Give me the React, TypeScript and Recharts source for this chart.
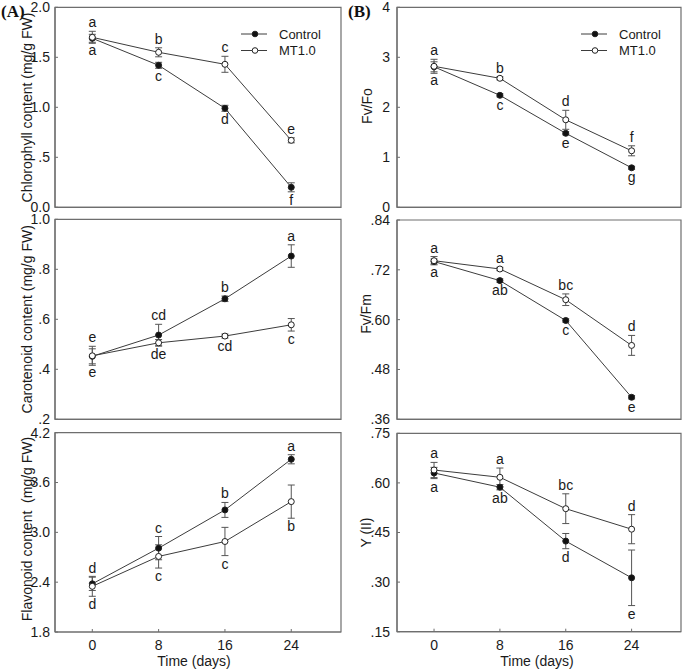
import React from 'react';
import { LineChart, Line, XAxis, YAxis, ErrorBar, ReferenceArea, Legend } from 'recharts';

const SANS = '"Liberation Sans", Arial, Helvetica, sans-serif';
const SERIF = '"Liberation Serif", "Times New Roman", serif';

const days = [0, 8, 16, 24];
const dayLabels = ['0', '8', '16', '24'];

// (A) top: Chlorophyll content
const chlControl = [1.69, 1.42, 0.99, 0.2];
const chlControlErr = [0.04, 0.03, 0.03, 0.045];
const chlControlLetters = ['a', 'c', 'd', 'f'];
const chlMT = [1.7, 1.55, 1.43, 0.67];
const chlMTErr = [0.06, 0.045, 0.08, 0.025];
const chlMTLetters = ['a', 'b', 'c', 'e'];
const chlTicks = [0, 0.5, 1, 1.5, 2];
const chlTickLabels = ['0.0', '.5', '1.0', '1.5', '2.0'];

// (A) middle: Carotenoid content
const carControl = [0.452, 0.537, 0.682, 0.853];
const carControlErr = [0.03, 0.043, 0.011, 0.045];
const carControlLetters = ['e', 'cd', 'b', 'a'];
const carMT = [0.454, 0.506, 0.533, 0.578];
const carMTErr = [0.038, 0.013, 0.008, 0.025];
const carMTLetters = ['e', 'de', 'cd', 'c'];
const carTicks = [0.2, 0.4, 0.6, 0.8, 1.0];
const carTickLabels = ['.2', '.4', '.6', '.8', '1.0'];

// (A) bottom: Flavonoid content
const flaControl = [2.38, 2.81, 3.27, 3.88];
const flaControlErr = [0.08, 0.14, 0.09, 0.055];
const flaControlLetters = ['d', 'c', 'b', 'a'];
const flaMT = [2.35, 2.71, 2.89, 3.37];
const flaMTErr = [0.12, 0.14, 0.17, 0.2];
const flaMTLetters = ['d', 'c', 'c', 'b'];
const flaTicks = [1.8, 2.4, 3.0, 3.6, 4.2];
const flaTickLabels = ['1.8', '2.4', '3.0', '3.6', '4.2'];

// (B) top: Fv/Fo
const fvfoControl = [2.81, 2.24, 1.48, 0.79];
const fvfoControlErr = [0.1, 0.03, 0.03, 0.03];
const fvfoControlLetters = ['a', 'c', 'e', 'g'];
const fvfoMT = [2.82, 2.58, 1.75, 1.13];
const fvfoMTErr = [0.14, 0.03, 0.19, 0.1];
const fvfoMTLetters = ['a', 'b', 'd', 'f'];
const fvfoTicks = [0, 1, 2, 3, 4];
const fvfoTickLabels = ['0', '1', '2', '3', '4'];

// (B) middle: Fv/Fm
const fvfmControl = [0.74, 0.694, 0.598, 0.413];
const fvfmControlErr = [0.006, 0.004, 0.004, 0.004];
const fvfmControlLetters = ['a', 'ab', 'c', 'e'];
const fvfmMT = [0.742, 0.722, 0.648, 0.538];
const fvfmMTErr = [0.01, 0.004, 0.014, 0.024];
const fvfmMTLetters = ['a', 'a', 'bc', 'd'];
const fvfmTicks = [0.36, 0.48, 0.6, 0.72, 0.84];
const fvfmTickLabels = ['.36', '.48', '.60', '.72', '.84'];

// (B) bottom: Y(II)
const yiiControl = [0.63, 0.587, 0.424, 0.313];
const yiiControlErr = [0.017, 0.008, 0.023, 0.084];
const yiiControlLetters = ['a', 'ab', 'd', 'e'];
const yiiMT = [0.639, 0.617, 0.522, 0.46];
const yiiMTErr = [0.023, 0.028, 0.045, 0.044];
const yiiMTLetters = ['a', 'a', 'bc', 'd'];
const yiiTicks = [0.15, 0.3, 0.45, 0.6, 0.75];
const yiiTickLabels = ['.15', '.30', '.45', '.60', '.75'];

const X_DOMAIN: [number, number] = [-4.5, 30];
const AXIS_COLOR = '#6e6e6e';
const LINE_COLOR = '#3c3c3c';
const TEXT_COLOR = '#1a1a1a';

function buildRows(c: number[], cErr: number[], cL: string[], m: number[], mErr: number[], mL: string[]) {
  return days.map((d, i) => ({
    day: d,
    c: c[i],
    cErr: cErr[i],
    cL: cL[i],
    m: m[i],
    mErr: mErr[i],
    mL: mL[i],
  }));
}

const makeDot = (key: 'c' | 'm', pxPerUnit: number) => (props: any) => {
  const { cx, cy, payload, index } = props;
  if (cx == null || cy == null || !payload) return <g key={`${key}-${index}`} />;
  const other = key === 'c' ? 'm' : 'c';
  const val = payload[key];
  const otherVal = payload[other];
  const errPx = payload[key + 'Err'] * pxPerUnit;
  const above = val >= otherVal;
  const ty = above ? cy - errPx - 4 : cy + errPx + 13;
  return (
    <g key={`${key}-${index}`}>
      <circle
        cx={cx}
        cy={cy}
        r={3}
        fill={key === 'c' ? '#111' : '#fff'}
        stroke="#222"
        strokeWidth={1}
      />
      <text
        x={cx}
        y={ty}
        textAnchor="middle"
        fontSize={14}
        fontFamily={SANS}
        fill={TEXT_COLOR}
      >
        {payload[key + 'L']}
      </text>
    </g>
  );
};

const renderLegend = (props: any) => {
  const items = (props && props.payload) || [];
  return (
    <svg width={100} height={36} style={{ overflow: 'visible' }}>
      {items.map((it: any, i: number) => {
        const isControl = it.value === 'Control';
        const y = isControl ? 8 : 24.5;
        return (
          <g key={it.value || i}>
            <line x1={1} x2={27} y1={y} y2={y} stroke={LINE_COLOR} strokeWidth={1} />
            <circle cx={15} cy={y} r={2.8} fill={isControl ? '#111' : '#fff'} stroke="#222" strokeWidth={1} />
            <text x={39} y={y} dy="0.36em" fontSize={13} fontFamily={SANS} fill={TEXT_COLOR}>
              {it.value}
            </text>
          </g>
        );
      })}
    </svg>
  );
};

type PanelProps = {
  x0: number;
  y0: number;
  w: number;
  h: number;
  plotLeft: number;
  plotRight: number;
  plotTop: number;
  plotBottom: number;
  yDomain: [number, number];
  yTicks: number[];
  yTickLabels: string[];
  yTickMargin: number;
  rows: any[];
  showX: boolean;
  legend: boolean;
};

function Panel(p: PanelProps) {
  const margin = { top: p.plotTop - p.y0, right: p.x0 + p.w - p.plotRight, bottom: 0, left: 0 };
  const yAxisW = p.plotLeft - p.x0;
  const xAxisH = p.y0 + p.h - p.plotBottom;
  const pxPerUnit = (p.plotBottom - p.plotTop) / (p.yDomain[1] - p.yDomain[0]);
  const yFmt = (v: number) => {
    const i = p.yTicks.findIndex((t) => Math.abs(t - v) < 1e-9);
    return i >= 0 ? p.yTickLabels[i] : String(v);
  };
  const xFmt = (v: number) => {
    const i = days.indexOf(v);
    return i >= 0 ? dayLabels[i] : String(v);
  };
  return (
    <div style={{ position: 'absolute', left: p.x0, top: p.y0, width: p.w, height: p.h }}>
      <LineChart width={p.w} height={p.h} data={p.rows} margin={margin}>
        <ReferenceArea
          x1={X_DOMAIN[0]}
          x2={X_DOMAIN[1]}
          y1={p.yDomain[0]}
          y2={p.yDomain[1]}
          fill="none"
          stroke={AXIS_COLOR}
          strokeWidth={1.2}
          isAnimationActive={false}
        />
        <XAxis
          dataKey="day"
          type="number"
          domain={X_DOMAIN}
          ticks={days}
          interval={0}
          allowDataOverflow
          height={xAxisH}
          tickSize={-3}
          tickMargin={11}
          axisLine={{ stroke: AXIS_COLOR, strokeWidth: 1.2 }}
          tickLine={{ stroke: AXIS_COLOR }}
          tick={p.showX ? { fontSize: 14, fill: TEXT_COLOR, fontFamily: SANS } : false}
          tickFormatter={xFmt}
        />
        <YAxis
          type="number"
          domain={p.yDomain}
          ticks={p.yTicks}
          interval={0}
          allowDataOverflow
          width={yAxisW}
          tickSize={-3}
          tickMargin={p.yTickMargin}
          axisLine={{ stroke: AXIS_COLOR, strokeWidth: 1.2 }}
          tickLine={{ stroke: AXIS_COLOR }}
          tick={{ fontSize: 14, fill: TEXT_COLOR, fontFamily: SANS }}
          tickFormatter={yFmt}
        />
        <Line
          dataKey="c"
          name="Control"
          stroke={LINE_COLOR}
          strokeWidth={1}
          isAnimationActive={false}
          dot={makeDot('c', pxPerUnit)}
          activeDot={false}
        >
          <ErrorBar dataKey="cErr" direction="y" width={3.5} stroke="#555" strokeWidth={1} isAnimationActive={false} />
        </Line>
        <Line
          dataKey="m"
          name="MT1.0"
          stroke={LINE_COLOR}
          strokeWidth={1}
          isAnimationActive={false}
          dot={makeDot('m', pxPerUnit)}
          activeDot={false}
        >
          <ErrorBar dataKey="mErr" direction="y" width={3.5} stroke="#555" strokeWidth={1} isAnimationActive={false} />
        </Line>
        {p.legend && (
          <Legend
            layout="vertical"
            align="center"
            verticalAlign="middle"
            content={renderLegend}
            wrapperStyle={{ left: 240, top: 25.5, width: 100, height: 36 }}
          />
        )}
      </LineChart>
    </div>
  );
}

const chlRows = buildRows(chlControl, chlControlErr, chlControlLetters, chlMT, chlMTErr, chlMTLetters);
const carRows = buildRows(carControl, carControlErr, carControlLetters, carMT, carMTErr, carMTLetters);
const flaRows = buildRows(flaControl, flaControlErr, flaControlLetters, flaMT, flaMTErr, flaMTLetters);
const fvfoRows = buildRows(fvfoControl, fvfoControlErr, fvfoControlLetters, fvfoMT, fvfoMTErr, fvfoMTLetters);
const fvfmRows = buildRows(fvfmControl, fvfmControlErr, fvfmControlLetters, fvfmMT, fvfmMTErr, fvfmMTLetters);
const yiiRows = buildRows(yiiControl, yiiControlErr, yiiControlLetters, yiiMT, yiiMTErr, yiiMTLetters);

function RotLabel({ x, cy, text }: { x: number; cy: number; text: string }) {
  return (
    <text
      x={x}
      y={cy}
      transform={`rotate(-90, ${x}, ${cy})`}
      textAnchor="middle"
      fontSize={14}
      fontFamily={SANS}
      fill={TEXT_COLOR}
      style={{ whiteSpace: 'pre' }}
    >
      {text}
    </text>
  );
}

export default function App() {
  const L = { x0: 0, w: 345, plotLeft: 55, plotRight: 341, yTickMargin: 8 };
  const R = { x0: 340, w: 345, plotLeft: 397, plotRight: 681, yTickMargin: 10 };
  return (
    <div
      style={{
        position: 'absolute',
        left: 0,
        top: 0,
        width: 685,
        height: 671,
        background: '#fff',
        overflow: 'hidden',
      }}
    >
      <Panel {...L} y0={0} h={214} plotTop={7.3} plotBottom={207.3} yDomain={[0, 2]} yTicks={chlTicks} yTickLabels={chlTickLabels} rows={chlRows} showX={false} legend />
      <Panel {...L} y0={212} h={214} plotTop={219.3} plotBottom={419.3} yDomain={[0.2, 1.0]} yTicks={carTicks} yTickLabels={carTickLabels} rows={carRows} showX={false} legend={false} />
      <Panel {...L} y0={425} h={246} plotTop={432.7} plotBottom={632} yDomain={[1.8, 4.2]} yTicks={flaTicks} yTickLabels={flaTickLabels} rows={flaRows} showX legend={false} />
      <Panel {...R} y0={0} h={214} plotTop={7.3} plotBottom={207.3} yDomain={[0, 4]} yTicks={fvfoTicks} yTickLabels={fvfoTickLabels} rows={fvfoRows} showX={false} legend />
      <Panel {...R} y0={212} h={214} plotTop={220} plotBottom={419.3} yDomain={[0.36, 0.84]} yTicks={fvfmTicks} yTickLabels={fvfmTickLabels} rows={fvfmRows} showX={false} legend={false} />
      <Panel {...R} y0={425} h={246} plotTop={433.3} plotBottom={631.7} yDomain={[0.15, 0.75]} yTicks={yiiTicks} yTickLabels={yiiTickLabels} rows={yiiRows} showX legend={false} />
      <svg
        width={685}
        height={671}
        style={{ position: 'absolute', left: 0, top: 0, pointerEvents: 'none' }}
      >
        <text x={1} y={16.5} fontSize={17} fontWeight="bold" fontFamily={SERIF} fill="#111">(A)</text>
        <text x={348} y={16.5} fontSize={17} fontWeight="bold" fontFamily={SERIF} fill="#111">(B)</text>
        <RotLabel x={32} cy={107.5} text="Chlorophyll content (mg/g FW)" />
        <RotLabel x={32} cy={319.3} text="Carotenoid content (mg/g FW)" />
        <RotLabel x={32} cy={529} text="Flavonoid content  (mg/g FW)" />
        <RotLabel x={372} cy={106} text="Fv/Fo" />
        <RotLabel x={371} cy={314} text="Fv/Fm" />
        <RotLabel x={371} cy={532.5} text="Y (II)" />
        <text x={194} y={666} textAnchor="middle" fontSize={14} fontFamily={SANS} fill={TEXT_COLOR}>Time (days)</text>
        <text x={537} y={666} textAnchor="middle" fontSize={14} fontFamily={SANS} fill={TEXT_COLOR}>Time (days)</text>
      </svg>
    </div>
  );
}
